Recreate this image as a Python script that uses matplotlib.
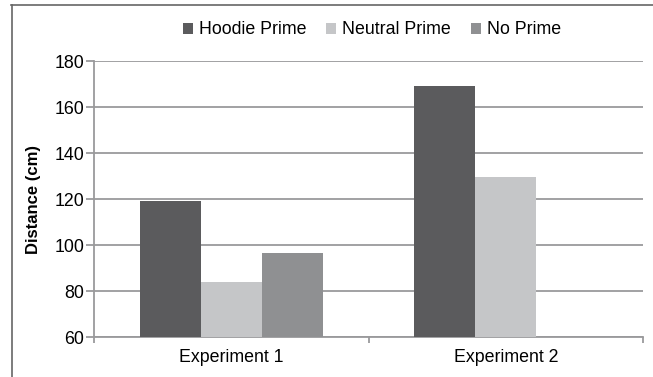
import numpy as np
import matplotlib.pyplot as plt
from matplotlib.lines import Line2D

plt.rcParams['font.family'] = ['Liberation Sans', 'DejaVu Sans']

# Mean approach distance per condition
experiments = ['Experiment 1', 'Experiment 2']
conditions = ['Hoodie Prime', 'Neutral Prime', 'No Prime']
hoodie = [119, 169]
neutral = [84, 129.5]
no_prime = [96.5, np.nan]   # no control condition in experiment 2
colors = ['#5b5b5d', '#c5c6c8', '#8f9092']

fs = 12.8
fig = plt.figure(figsize=(6.53, 3.77), dpi=100)
ax = fig.add_axes([94 / 653, 1 - 337 / 377, (643 - 94) / 653, (337 - 61) / 377])

x = np.arange(len(experiments))
w = 0.222
for i, (vals, c, lab) in enumerate(zip([hoodie, neutral, no_prime], colors, conditions)):
    ax.bar(x + (i - 1) * w, np.array(vals) - 60, width=w, bottom=60, color=c, label=lab, zorder=3)

ax.set_xlim(-0.5, 1.5)
ax.set_ylim(60, 180)
ax.set_yticks(range(60, 181, 20))
ax.yaxis.grid(True, color='#9a9a9c', linewidth=1.3, zorder=0)

# category ticks sit on the boundaries between groups
ax.set_xticks(x)
ax.set_xticklabels(experiments, fontsize=fs)
ax.set_xticks([-0.5, 0.5, 1.5], minor=True)
ax.tick_params(axis='x', which='major', length=0, pad=9)
ax.tick_params(axis='x', which='minor', length=4.5, width=1.3, color='#9a9a9c')
ax.tick_params(axis='y', length=5.5, width=1.3, color='#9a9a9c', labelsize=fs, pad=1.5)

for s in ['top', 'right']:
    ax.spines[s].set_visible(False)
for s in ['left', 'bottom']:
    ax.spines[s].set_color('#9a9a9c')
    ax.spines[s].set_linewidth(1.3)

ax.set_ylabel('Distance (cm)', fontsize=12, fontweight='bold', labelpad=10)

fig.legend(loc='center', bbox_to_anchor=(372 / 653, 1 - 30 / 377), ncol=3, frameon=False,
           fontsize=fs, handlelength=0.56, handleheight=0.56, handletextpad=0.34,
           columnspacing=1.1, borderpad=0)

# outer frame (top and left edges)
fig.add_artist(Line2D([11 / 653, 1], [1 - 4.5 / 377] * 2, color='#666666', linewidth=1.2))
fig.add_artist(Line2D([11.5 / 653] * 2, [0, 1 - 4.5 / 377], color='#666666', linewidth=1.2))

fig.savefig('out.png', dpi=100)
